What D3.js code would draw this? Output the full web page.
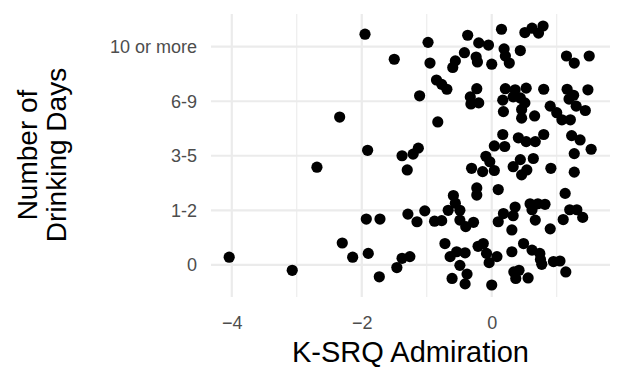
<!DOCTYPE html>
<html>
<head>
<meta charset="utf-8">
<script src="https://cdn.jsdelivr.net/npm/d3@7"></script>
<style>
  body { margin: 0; background: #fff; }
  svg { display: block; font-family: "Liberation Sans", Arial, sans-serif; }
</style>
</head>
<body>
<div id="chart"></div>
<script>
var width = 624;
var height = 384;

// drinking-day categories, bottom to top
var categories = ["0", "1-2", "3-5", "6-9", "10 or more"];
var xTicks = [-4, -2, 0];
var xMinorTicks = [-3, -1, 1];

// K-SRQ admiration score (x) and jittered category position (y, 0 = "0")
var admiration = [
  -1.95, -1.50, -0.98, -0.37, 0.15, -0.20, -0.05, -0.42, -0.24, -0.22, -0.56, -0.60, -0.95, 0.00, 0.19, 0.21, 0.27, 0.44, 0.51, 0.62, 0.79, 0.72, 1.15, 1.27, 1.50,
  -0.85, -0.77, -0.69, -1.11, -0.23, -0.33, -0.32, -0.20, 0.21, 0.36, 0.53, 0.17, 0.33, 0.44, 0.51, 0.46, 0.18, 0.46, 0.80, 1.16, 1.26, 1.48, 1.19, 0.90, 1.00, 1.08, 1.21, 1.44, 1.30, 0.66, -0.83, -2.34,
  -1.91, -2.69, -1.38, -1.21, -1.13, -1.30, 0.17, 0.41, 0.53, 0.67, 0.80, 0.04, 0.20, -0.09, -0.03, -0.31, -0.14, 0.04, 0.44, 0.64, 0.33, 0.54, 0.46, 0.91, 1.23, 1.36, 1.53, 1.27, 1.27,
  -0.23, -0.23, 0.10, -0.59, -0.56, -0.67, -0.49, -0.49, -0.40, -0.28, 0.10, -1.03, -1.29, -1.15, -0.88, -0.77, 1.13, 0.36, 0.59, 0.62, 0.71, 0.82, 0.18, 0.33, 0.31, 0.67, 0.90, 1.10, 1.20, 1.31, 1.40, -1.93, -1.72, -2.30,
  -4.04, -3.07, -2.14, -1.90, -1.73, -1.46, -1.38, -1.26, -0.72, -0.54, -0.64, -0.41, -0.49, -0.38, -0.61, -0.41, -0.21, -0.13, -0.08, -0.04, 0.08, 0.00, 0.31, 0.49, 0.62, 0.74, 0.75, 0.77, 0.95, 1.05, 1.14, 0.34, 0.42, 0.56, 0.37
];
var drinkingPos = [
  4.23, 3.77, 4.08, 4.21, 4.32, 4.07, 4.03, 3.89, 3.81, 3.72, 3.74, 3.62, 3.70, 3.68, 3.96, 3.83, 3.70, 3.93, 4.26, 4.34, 4.38, 4.25, 3.83, 3.70, 3.83,
  3.39, 3.31, 3.22, 3.10, 3.23, 3.08, 2.95, 2.97, 3.23, 3.21, 3.24, 3.02, 3.08, 3.06, 2.97, 2.85, 2.81, 2.69, 3.22, 3.22, 3.11, 3.21, 3.04, 2.91, 2.79, 2.66, 2.66, 2.83, 2.91, 2.73, 2.62, 2.71,
  2.10, 1.79, 2.00, 2.03, 2.14, 1.74, 2.39, 2.33, 2.26, 2.26, 2.39, 2.18, 2.17, 1.99, 1.89, 1.77, 1.71, 1.73, 1.93, 1.95, 1.80, 1.74, 1.65, 1.77, 2.37, 2.29, 2.12, 2.04, 1.70,
  1.41, 1.28, 1.38, 1.27, 1.13, 1.00, 1.00, 0.82, 0.70, 0.78, 0.79, 0.99, 0.93, 0.79, 0.80, 0.81, 1.31, 1.06, 1.12, 1.01, 1.12, 1.11, 0.94, 0.90, 0.64, 0.82, 0.66, 0.83, 1.01, 1.01, 0.87, 0.84, 0.84, 0.40,
  0.14, -0.10, 0.14, 0.21, -0.22, -0.05, 0.12, 0.15, 0.39, 0.24, 0.15, 0.22, -0.01, -0.17, -0.25, -0.35, 0.34, 0.39, 0.21, 0.04, 0.15, -0.37, 0.24, 0.39, 0.27, 0.21, 0.10, 0.01, 0.06, 0.07, -0.13, -0.13, -0.10, -0.24, -0.25
];

var points = admiration.map(function(a, i) { return {x: a, y: drinkingPos[i]}; });

var panel = {left: 211, right: 610, top: 14, bottom: 297};

var x = d3.scaleLinear().domain([-4.32, 1.82]).range([panel.left, panel.right]);
var y = d3.scaleLinear().domain([-0.59, 4.6]).range([panel.bottom, panel.top]);

var svg = d3.select("#chart").append("svg")
  .attr("width", width)
  .attr("height", height);

svg.append("rect").attr("width", width).attr("height", height).attr("fill", "#fff");

var grid = svg.append("g");
grid.selectAll(".minor")
  .data(xMinorTicks)
  .enter().append("line")
    .attr("x1", x).attr("x2", x)
    .attr("y1", panel.top).attr("y2", panel.bottom)
    .attr("stroke", "#ebebeb").attr("stroke-width", 1.1);
grid.selectAll(".xmajor")
  .data(xTicks)
  .enter().append("line")
    .attr("x1", x).attr("x2", x)
    .attr("y1", panel.top).attr("y2", panel.bottom)
    .attr("stroke", "#ebebeb").attr("stroke-width", 2.2);
grid.selectAll(".ymajor")
  .data(categories)
  .enter().append("line")
    .attr("x1", panel.left).attr("x2", panel.right)
    .attr("y1", function(d, i) { return y(i); })
    .attr("y2", function(d, i) { return y(i); })
    .attr("stroke", "#ebebeb").attr("stroke-width", 2.2);

svg.append("g").selectAll("circle")
  .data(points)
  .enter().append("circle")
    .attr("cx", function(d) { return x(d.x); })
    .attr("cy", function(d) { return y(d.y); })
    .attr("r", 5.6)
    .attr("fill", "#000");

// axes (ggplot minimal: labels only, no lines or ticks)
var xAxis = svg.append("g")
  .attr("transform", "translate(0," + panel.bottom + ")")
  .call(d3.axisBottom(x).tickValues(xTicks).tickSize(0).tickPadding(19)
    .tickFormat(function(d) { return d < 0 ? "\u2212" + Math.abs(d) : d; }));
var yAxis = svg.append("g")
  .attr("transform", "translate(" + (panel.left - 14) + ",0)")
  .call(d3.axisLeft(d3.scalePoint().domain(categories).range([y(0), y(4)])).tickSize(0).tickPadding(0));
[xAxis, yAxis].forEach(function(g) {
  g.select(".domain").remove();
  g.selectAll("text")
    .attr("fill", "#4d4d4d")
    .style("font-size", "18px")
    .style("font-family", "'Liberation Sans', Arial, sans-serif");
});

svg.append("text")
  .attr("x", (panel.left + panel.right) / 2)
  .attr("y", 362)
  .attr("text-anchor", "middle")
  .style("font-size", "29px")
  .text("K-SRQ Admiration");

var yTitle = svg.append("text")
  .attr("transform", "translate(37,155) rotate(-90)")
  .attr("text-anchor", "middle")
  .style("font-size", "28px");
yTitle.append("tspan").attr("x", 0).attr("y", 0).text("Number of");
yTitle.append("tspan").attr("x", 0).attr("y", 29).text("Drinking Days");
</script>
</body>
</html>
